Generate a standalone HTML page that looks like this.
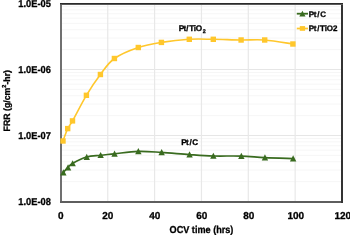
<!DOCTYPE html>
<html><head><meta charset="utf-8"><style>
html,body{margin:0;padding:0;background:#fff;}
svg{display:block;will-change:transform;}
text{font-family:"Liberation Sans",sans-serif;font-weight:bold;fill:#000;text-rendering:geometricPrecision;stroke:#000;stroke-width:0.3px;}
</style></head><body>
<svg width="350" height="235" viewBox="0 0 350 235">
<line x1="61" x2="342" y1="181.63" y2="181.63" stroke="#F6F6F6" stroke-width="1"/>
<line x1="61" x2="342" y1="170.01" y2="170.01" stroke="#F6F6F6" stroke-width="1"/>
<line x1="61" x2="342" y1="161.76" y2="161.76" stroke="#F6F6F6" stroke-width="1"/>
<line x1="61" x2="342" y1="155.37" y2="155.37" stroke="#F6F6F6" stroke-width="1"/>
<line x1="61" x2="342" y1="150.14" y2="150.14" stroke="#F6F6F6" stroke-width="1"/>
<line x1="61" x2="342" y1="145.72" y2="145.72" stroke="#F6F6F6" stroke-width="1"/>
<line x1="61" x2="342" y1="141.90" y2="141.90" stroke="#F6F6F6" stroke-width="1"/>
<line x1="61" x2="342" y1="138.52" y2="138.52" stroke="#F6F6F6" stroke-width="1"/>
<line x1="61" x2="342" y1="115.63" y2="115.63" stroke="#F6F6F6" stroke-width="1"/>
<line x1="61" x2="342" y1="104.01" y2="104.01" stroke="#F6F6F6" stroke-width="1"/>
<line x1="61" x2="342" y1="95.76" y2="95.76" stroke="#F6F6F6" stroke-width="1"/>
<line x1="61" x2="342" y1="89.37" y2="89.37" stroke="#F6F6F6" stroke-width="1"/>
<line x1="61" x2="342" y1="84.14" y2="84.14" stroke="#F6F6F6" stroke-width="1"/>
<line x1="61" x2="342" y1="79.72" y2="79.72" stroke="#F6F6F6" stroke-width="1"/>
<line x1="61" x2="342" y1="75.90" y2="75.90" stroke="#F6F6F6" stroke-width="1"/>
<line x1="61" x2="342" y1="72.52" y2="72.52" stroke="#F6F6F6" stroke-width="1"/>
<line x1="61" x2="342" y1="49.63" y2="49.63" stroke="#F6F6F6" stroke-width="1"/>
<line x1="61" x2="342" y1="38.01" y2="38.01" stroke="#F6F6F6" stroke-width="1"/>
<line x1="61" x2="342" y1="29.76" y2="29.76" stroke="#F6F6F6" stroke-width="1"/>
<line x1="61" x2="342" y1="23.37" y2="23.37" stroke="#F6F6F6" stroke-width="1"/>
<line x1="61" x2="342" y1="18.14" y2="18.14" stroke="#F6F6F6" stroke-width="1"/>
<line x1="61" x2="342" y1="13.72" y2="13.72" stroke="#F6F6F6" stroke-width="1"/>
<line x1="61" x2="342" y1="9.90" y2="9.90" stroke="#F6F6F6" stroke-width="1"/>
<line x1="61" x2="342" y1="6.52" y2="6.52" stroke="#F6F6F6" stroke-width="1"/>
<line x1="61" x2="342" y1="135.50" y2="135.50" stroke="#E6E6E6" stroke-width="1.2"/>
<line x1="61" x2="342" y1="69.50" y2="69.50" stroke="#E6E6E6" stroke-width="1.2"/>
<line x1="107.75" x2="107.75" y1="3.5" y2="201.5" stroke="#E8E8E8" stroke-width="1.2"/>
<line x1="154.60" x2="154.60" y1="3.5" y2="201.5" stroke="#E8E8E8" stroke-width="1.2"/>
<line x1="201.45" x2="201.45" y1="3.5" y2="201.5" stroke="#E8E8E8" stroke-width="1.2"/>
<line x1="248.30" x2="248.30" y1="3.5" y2="201.5" stroke="#E8E8E8" stroke-width="1.2"/>
<line x1="295.15" x2="295.15" y1="3.5" y2="201.5" stroke="#E8E8E8" stroke-width="1.2"/>
<rect x="60" y="3" width="2" height="200" fill="#707070"/>
<rect x="60" y="201" width="283" height="2" fill="#5E5E5E"/>
<rect x="341" y="3" width="2" height="200" fill="#333333"/>
<rect x="60" y="3" width="283" height="1" fill="#2A2A2A"/>
<rect x="60" y="4" width="283" height="1" fill="#5A5A5A"/>
<path d="M63.00,141.00 C63.78,138.93 66.12,131.95 67.70,128.60 C69.28,125.25 69.38,126.45 72.50,120.90 C75.62,115.35 81.75,103.03 86.40,95.30 C91.05,87.57 95.73,80.63 100.40,74.50 C105.07,68.37 108.08,63.00 114.40,58.50 C120.72,54.00 130.47,50.18 138.30,47.50 C146.13,44.82 152.90,43.77 161.40,42.40 C169.90,41.03 180.65,39.82 189.30,39.30 C197.95,38.78 204.67,39.18 213.30,39.30 C221.93,39.42 232.53,39.88 241.10,40.00 C249.67,40.12 256.07,39.33 264.70,40.00 C273.33,40.67 288.20,43.33 292.90,44.00" fill="none" stroke="#FFC72C" stroke-width="1.6"/>
<path d="M63.10,172.60 C63.88,171.77 66.25,169.12 67.80,167.60 C69.35,166.08 69.28,165.25 72.40,163.50 C75.52,161.75 81.83,158.47 86.50,157.10 C91.17,155.73 95.77,155.83 100.40,155.30 C105.03,154.77 108.02,154.55 114.30,153.90 C120.58,153.25 130.25,151.65 138.10,151.40 C145.95,151.15 152.87,151.87 161.40,152.40 C169.93,152.93 180.68,154.00 189.30,154.60 C197.92,155.20 204.47,155.75 213.10,156.00 C221.73,156.25 232.50,155.83 241.10,156.10 C249.70,156.37 256.07,157.18 264.70,157.60 C273.33,158.02 288.20,158.43 292.90,158.60" fill="none" stroke="#396B1F" stroke-width="1.6"/>
<rect x="60.30" y="138.30" width="5.4" height="5.4" fill="#FFC72C"/>
<rect x="65.00" y="125.90" width="5.4" height="5.4" fill="#FFC72C"/>
<rect x="69.80" y="118.20" width="5.4" height="5.4" fill="#FFC72C"/>
<rect x="83.70" y="92.60" width="5.4" height="5.4" fill="#FFC72C"/>
<rect x="97.70" y="71.80" width="5.4" height="5.4" fill="#FFC72C"/>
<rect x="111.70" y="55.80" width="5.4" height="5.4" fill="#FFC72C"/>
<rect x="135.60" y="44.80" width="5.4" height="5.4" fill="#FFC72C"/>
<rect x="158.70" y="39.70" width="5.4" height="5.4" fill="#FFC72C"/>
<rect x="186.60" y="36.60" width="5.4" height="5.4" fill="#FFC72C"/>
<rect x="210.60" y="36.60" width="5.4" height="5.4" fill="#FFC72C"/>
<rect x="238.40" y="37.30" width="5.4" height="5.4" fill="#FFC72C"/>
<rect x="262.00" y="37.30" width="5.4" height="5.4" fill="#FFC72C"/>
<rect x="290.20" y="41.30" width="5.4" height="5.4" fill="#FFC72C"/>
<path d="M63.35,169.30 L66.55,175.40 L60.15,175.40Z" fill="#396B1F"/>
<path d="M68.05,164.30 L71.25,170.40 L64.85,170.40Z" fill="#396B1F"/>
<path d="M72.65,160.20 L75.85,166.30 L69.45,166.30Z" fill="#396B1F"/>
<path d="M86.75,153.80 L89.95,159.90 L83.55,159.90Z" fill="#396B1F"/>
<path d="M100.65,152.00 L103.85,158.10 L97.45,158.10Z" fill="#396B1F"/>
<path d="M114.55,150.60 L117.75,156.70 L111.35,156.70Z" fill="#396B1F"/>
<path d="M138.35,148.10 L141.55,154.20 L135.15,154.20Z" fill="#396B1F"/>
<path d="M161.65,149.10 L164.85,155.20 L158.45,155.20Z" fill="#396B1F"/>
<path d="M189.55,151.30 L192.75,157.40 L186.35,157.40Z" fill="#396B1F"/>
<path d="M213.35,152.70 L216.55,158.80 L210.15,158.80Z" fill="#396B1F"/>
<path d="M241.35,152.80 L244.55,158.90 L238.15,158.90Z" fill="#396B1F"/>
<path d="M264.95,154.30 L268.15,160.40 L261.75,160.40Z" fill="#396B1F"/>
<path d="M293.15,155.30 L296.35,161.40 L289.95,161.40Z" fill="#396B1F"/>
<line x1="296.8" x2="308" y1="13.7" y2="13.7" stroke="#396B1F" stroke-width="1.8"/>
<path d="M302.4,10.8 L305.5,16.4 L299.3,16.4Z" fill="#396B1F"/>
<line x1="296.8" x2="308" y1="28.5" y2="28.5" stroke="#FFC72C" stroke-width="1.7"/>
<rect x="299.8" y="26.1" width="5.3" height="4.7" fill="#FFC72C"/>
<rect x="178" y="24" width="29" height="9.4" fill="#fff"/>
<rect x="181" y="140" width="18" height="7" fill="#fff"/>
<text x="18.3" y="205.00" font-size="10" textLength="32.5" lengthAdjust="spacingAndGlyphs">1.0E-08</text>
<text x="18.3" y="139.00" font-size="10" textLength="32.5" lengthAdjust="spacingAndGlyphs">1.0E-07</text>
<text x="18.3" y="73.00" font-size="10" textLength="32.5" lengthAdjust="spacingAndGlyphs">1.0E-06</text>
<text x="18.3" y="7.00" font-size="10" textLength="32.5" lengthAdjust="spacingAndGlyphs">1.0E-05</text>
<text x="60.80" y="219" font-size="10" text-anchor="middle">0</text>
<text x="107.80" y="219" font-size="10" text-anchor="middle">20</text>
<text x="154.80" y="219" font-size="10" text-anchor="middle">40</text>
<text x="201.80" y="219" font-size="10" text-anchor="middle">60</text>
<text x="248.80" y="219" font-size="10" text-anchor="middle">80</text>
<text x="295.80" y="219" font-size="10" text-anchor="middle">100</text>
<text x="342.80" y="219" font-size="10" text-anchor="middle">120</text>
<text x="169.6" y="233" font-size="10" textLength="63.8" lengthAdjust="spacingAndGlyphs">OCV time (hrs)</text>
<text transform="translate(9.5,131.4) rotate(-90)" font-size="9.2" textLength="61.4" lengthAdjust="spacingAndGlyphs">FRR (g/cm<tspan font-size="5.8" dy="-3.6">2</tspan><tspan dy="3.6">-hr)</tspan></text>
<text x="308.85 313.8 317.2 320.3" y="16.7" font-size="8">Pt/C</text>
<text x="308.85 313.77 317.14 320.1 324.84 326.79 332.9" y="31" font-size="8">Pt/TiO2</text>
<text x="178.74 183.39 186.35 189.14 193.8 195.78" y="30.7" font-size="8.2">Pt/TiO<tspan x="202.64" y="32.6" font-size="5.3">2</tspan></text>
<text x="181.24 186.09 189.4 192.34" y="145.3" font-size="8.2">Pt/C</text>
</svg>
</body></html>
